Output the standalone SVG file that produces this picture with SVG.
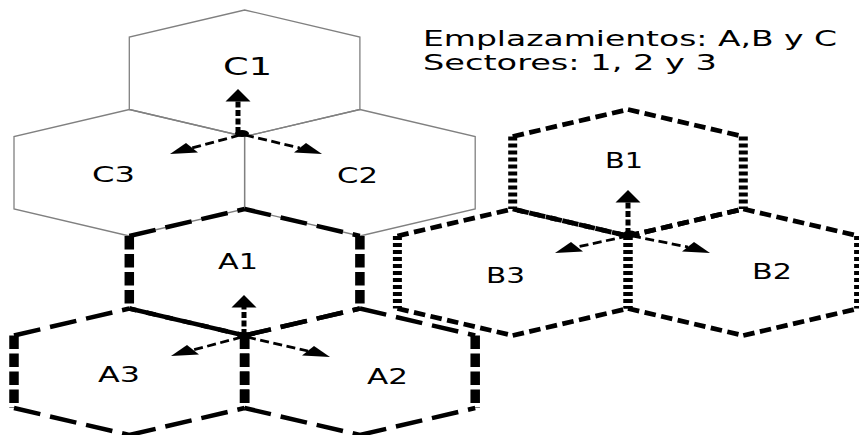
<svg xmlns="http://www.w3.org/2000/svg" width="859" height="435" viewBox="0 0 859 435">
  <style>
    .c { fill: none; stroke: #808080; stroke-width: 1.3; }
    .av { fill: none; stroke: #000; stroke-width: 9.5; stroke-dasharray: 13.5 4.5; }
    .as { fill: none; stroke: #000; stroke-width: 4.5; stroke-dasharray: 27 10; }
    .bv { fill: none; stroke: #000; stroke-width: 9; stroke-dasharray: 4 3; }
    .bs { fill: none; stroke: #000; stroke-width: 4.8; stroke-dasharray: 11.5 5.5; }
    .lbl { font-family: "DejaVu Sans", "Liberation Sans", sans-serif; fill: #000; }
    .sv { fill: none; stroke: #000; stroke-width: 5; stroke-dasharray: 6 2.5; }
    .sd { fill: none; stroke: #000; stroke-width: 2.8; stroke-dasharray: 9 4.5; }
    .hd { fill: #000; }
  </style>
  <rect width="859" height="435" fill="#fff"/>

  <g id="C1">
    <polygon class="c" points="244.6,10 359.9,37 359.9,109.5 244.6,136.5 129.3,109.5 129.3,37"/>
    <text class="lbl" x="223" y="75" font-size="24.5" textLength="49" lengthAdjust="spacingAndGlyphs">C1</text>
  </g>
  <g id="C3">
    <polygon class="c" points="129.3,109.5 244.6,136.5 244.6,209 129.3,236 14,209 14,136.5"/>
    <text class="lbl" x="92" y="182" font-size="21" textLength="43" lengthAdjust="spacingAndGlyphs">C3</text>
  </g>
  <g id="C2">
    <polygon class="c" points="359.9,109.5 475.2,136.5 475.2,209 359.9,236 244.6,209 244.6,136.5"/>
    <text class="lbl" x="337" y="183" font-size="21" textLength="41" lengthAdjust="spacingAndGlyphs">C2</text>
  </g>

  <g id="A1">
    <path class="as" d="M129.3 236 L244.6 209 M244.6 209 L359.9 236 M244.6 335.5 L129.3 308.5 M244.6 335.5 L359.9 308.5"/>
    <path class="av" d="M129.3 236 V308.5 M359.9 236 V308.5"/>
    <text class="lbl" x="218" y="269" font-size="21" textLength="40" lengthAdjust="spacingAndGlyphs">A1</text>
  </g>
  <g id="A3">
    <path class="as" d="M14 335.5 L129.3 308.5 M129.3 308.5 L244.6 335.5 M14 408 L129.3 435 M129.3 435 L244.6 408"/>
    <path class="av" d="M14 335.5 V408 M244.6 335.5 V408"/>
    <text class="lbl" x="98" y="382" font-size="21" textLength="42" lengthAdjust="spacingAndGlyphs">A3</text>
  </g>
  <g id="A2">
    <path class="as" d="M244.6 335.5 L359.9 308.5 M359.9 308.5 L475.2 335.5 M244.6 408 L359.9 435 M359.9 435 L475.2 408"/>
    <path class="av" d="M244.6 335.5 V408 M475.2 335.5 V408"/>
    <text class="lbl" x="367" y="384" font-size="21" textLength="41" lengthAdjust="spacingAndGlyphs">A2</text>
  </g>

  <g id="B1">
    <path class="bs" d="M512.7 136.5 L628 109.5 M628 109.5 L743.3 136.5 M628 236 L512.7 209 M628 236 L743.3 209"/>
    <path class="bv" d="M512.7 136.5 V209 M743.3 136.5 V209"/>
    <text class="lbl" x="605" y="168" font-size="21" textLength="38" lengthAdjust="spacingAndGlyphs">B1</text>
  </g>
  <g id="B3">
    <path class="bs" d="M397.4 236 L512.7 209 M512.7 209 L628 236 M397.4 308.5 L512.7 335.5 M512.7 335.5 L628 308.5"/>
    <path class="bv" d="M397.4 236 V308.5 M628 236 V308.5"/>
    <text class="lbl" x="486" y="283" font-size="21" textLength="39" lengthAdjust="spacingAndGlyphs">B3</text>
  </g>
  <g id="B2">
    <path class="bs" d="M628 236 L743.3 209 M743.3 209 L858.6 236 M628 308.5 L743.3 335.5 M743.3 335.5 L858.6 308.5"/>
    <path class="bv" d="M628 236 V308.5 M858.6 236 V308.5"/>
    <text class="lbl" x="752" y="279" font-size="21" textLength="40" lengthAdjust="spacingAndGlyphs">B2</text>
  </g>

  <g id="connectors">
    <g id="arrows-C">
      <ellipse cx="242" cy="133.5" rx="7" ry="3.5"/>
      <path class="sv" d="M238 133 V101"/>
      <polygon class="hd" points="238,89 225.5,101.5 250.5,101.5"/>
      <path class="sd" d="M240 135 L192 148"/>
      <polygon class="hd" points="170,154 186,143 198,152.5"/>
      <path class="sd" d="M245 135 L300 148"/>
      <polygon class="hd" points="322,154 306,143 294,152.5"/>
    </g>
    <g id="arrows-A">
      <ellipse cx="244" cy="335.5" rx="7" ry="3.5"/>
      <path class="sv" d="M244 335 V307"/>
      <polygon class="hd" points="244,295 231.5,307.5 256.5,307.5"/>
      <path class="sd" d="M242 337 L193 350"/>
      <polygon class="hd" points="171,356 187,345 199,354.5"/>
      <path class="sd" d="M247 337 L308 351"/>
      <polygon class="hd" points="330,357 314,346 302,355.5"/>
    </g>
    <g id="arrows-B">
      <ellipse cx="630" cy="234" rx="7" ry="3.5"/>
      <path class="sv" d="M628 234 V202"/>
      <polygon class="hd" points="628,190 615.5,202.5 640.5,202.5"/>
      <path class="sd" d="M628 236 L577 247"/>
      <polygon class="hd" points="555,253 571,242 583,251.5"/>
      <path class="sd" d="M632 236 L688 247"/>
      <polygon class="hd" points="710,253 694,242 682,251.5"/>
    </g>
  </g>

  <g id="legend">
    <text class="lbl" x="423" y="46" font-size="22" textLength="414" lengthAdjust="spacingAndGlyphs">Emplazamientos: A,B y C</text>
    <text class="lbl" x="423" y="69.5" font-size="22" textLength="294" lengthAdjust="spacingAndGlyphs">Sectores: 1, 2 y 3</text>
  </g>
</svg>
